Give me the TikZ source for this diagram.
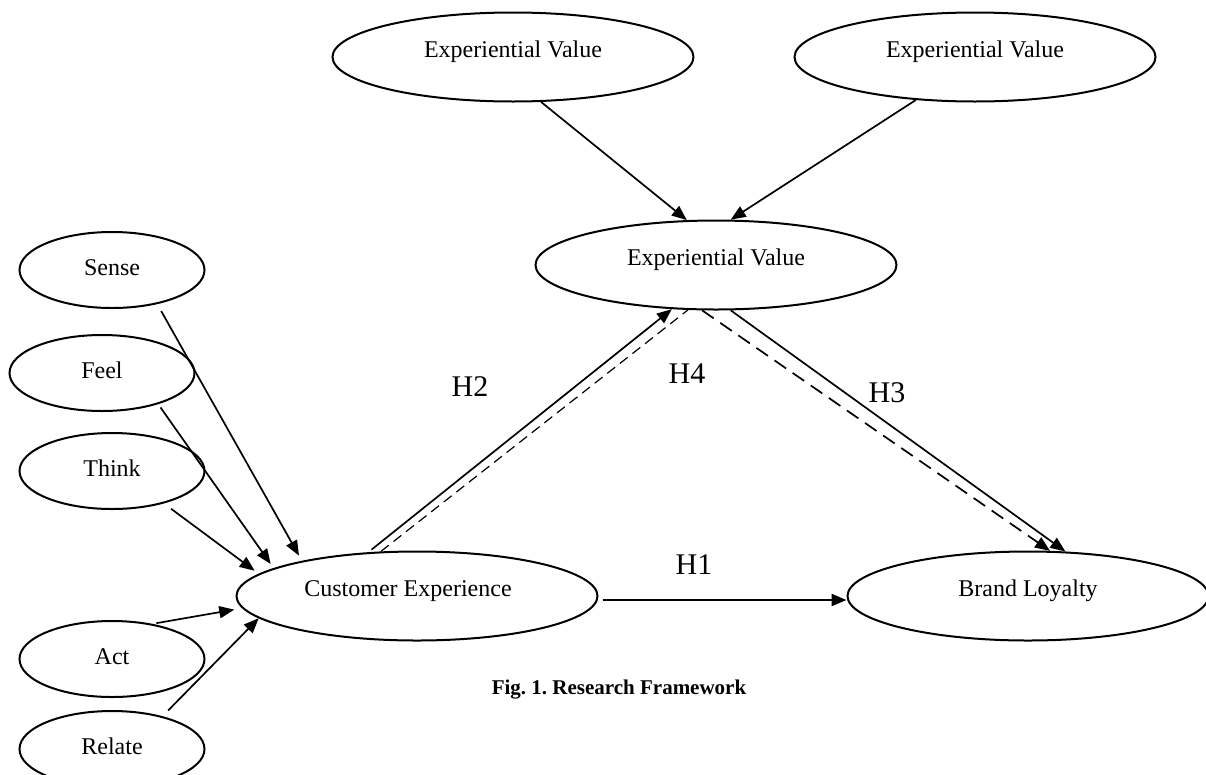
\documentclass[tikz,border=0pt]{standalone}
\usepackage{fontspec}
\setmainfont{Liberation Serif}
\usetikzlibrary{positioning,arrows.meta,shapes.geometric}
\frenchspacing

\begin{document}
\begin{tikzpicture}[
x=1pt, y=-1pt,
bignode/.style={ellipse, draw=black, line width=2pt, minimum width=361pt, minimum height=89pt, inner sep=2pt, font=\fontsize{24}{28}\selectfont, text height=16pt, text depth=16pt},
smallnode/.style={ellipse, draw=black, line width=2pt, minimum width=185pt, minimum height=76pt, inner sep=2pt, font=\fontsize{24}{28}\selectfont, text height=16pt, text depth=6pt},
hlabel/.style={font=\fontsize{30}{34}\selectfont},
arr/.style={-{Triangle[length=15pt,width=12pt]}, line width=1.7pt},
]
\useasboundingbox (0,0) rectangle (1206,774);
%Nodes
\node[bignode]   (EVa)    at (513,57)  {Experiential Value};
\node[bignode]   (EVb)    at (975,57)  {Experiential Value};
\node[bignode]   (EVm)    at (716,265) {Experiential Value};
\node[bignode]   (CE)     at (417,596) {\hspace*{-18pt}Customer Experience};
\node[bignode]   (BL)     [right=248pt of CE] {Brand Loyalty};
\node[smallnode] (Sense)  at (112,270) {Sense};
\node[smallnode] (Feel)   [below=25pt of Sense, xshift=-10pt] {Feel};
\node[smallnode] (Think)  [below=20pt of Feel, xshift=10pt] {Think};
\node[smallnode] (Act)    [below=110pt of Think] {Act};
\node[smallnode] (Relate) [below=12pt of Act] {Relate};
%Labels
\node[hlabel] (H1) at (694,565) {H1};
\node[hlabel] (H2) at (470,387) {H2};
\node[hlabel] (H3) at (887,393) {H3};
\node[hlabel] (H4) at (687,374) {H4};
\node[font=\bfseries\fontsize{21}{25}\selectfont] (fig) at (619,690) {Fig. 1. Research Framework};
%Lines
\draw[arr] (EVa.-58) -- (EVm.123);
\draw[arr] (EVb.-144) -- (EVm.72);
\draw[arr, shorten <=8pt, shorten >=6pt] (Sense.-37) -- (CE.163);
\draw[arr, shorten <=4pt, shorten >=5pt] (Feel.-29) -- (CE.169);
\draw[arr, shorten <=9pt, shorten >=5pt] (Think.-32) -- (CE.172);
\draw[arr, shorten <=4pt, shorten >=8pt] (Act.41) -- (CE.184);
\draw[arr, shorten <=8pt] (Relate.33) -- (CE.188);
\draw[arr, shorten <=4pt] (CE.138) -- (EVm.-135);
\draw[line width=1.2pt, dash pattern=on 10pt off 6pt] (CE.129) -- (EVm.-122);
\draw[arr] (EVm.-72) -- (BL.50);
\draw[arr, dash pattern=on 14pt off 8pt] (EVm.-107) -- (BL.64);
\draw[arr, line width=2.3pt, shorten <=4pt] ([yshift=-4pt]CE.east) -- ([yshift=-4pt]BL.west);
\end{tikzpicture}
\end{document}
